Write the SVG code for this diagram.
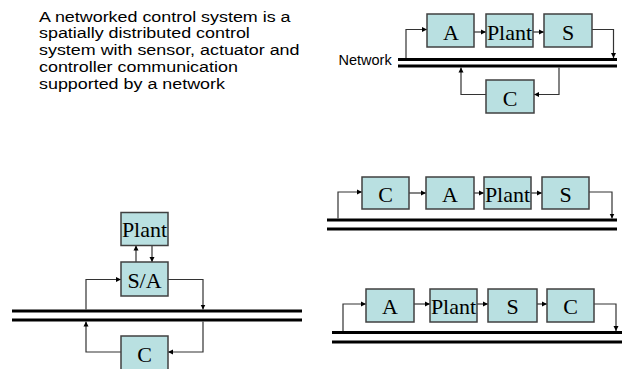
<svg xmlns="http://www.w3.org/2000/svg" width="630" height="369" viewBox="0 0 630 369">
<style>
.box{fill:#b9e0e1;stroke:#404040;stroke-width:1.5}
.bt{font-family:"Liberation Serif","Times New Roman",serif;font-size:22px;text-anchor:middle;fill:#000}
.net{stroke:#000;stroke-width:3;fill:none}
.c{stroke:#333;stroke-width:1.2;fill:none;marker-end:url(#ah)}
.para{font-family:"Liberation Sans",Arial,sans-serif;font-size:15.3px;fill:#000}
</style>
<defs>
<marker id="ah" markerUnits="userSpaceOnUse" markerWidth="6" markerHeight="6" refX="5" refY="3" orient="auto">
<path d="M0,0.5 L5,3 L0,5.5 Z" fill="#000"/>
</marker>
</defs>
<rect width="630" height="369" fill="#fff"/>

<g id="description" transform="translate(39,0) scale(1.17,1)">
<text class="para" x="0" y="21.7">A networked control system is a</text>
<text class="para" x="0" y="38.5">spatially distributed control</text>
<text class="para" x="0" y="55.3">system with sensor, actuator and</text>
<text class="para" x="0" y="72.1">controller communication</text>
<text class="para" x="0" y="88.9">supported by a network</text>
</g>
<text id="network-label" x="338.5" y="64.5" font-family="Liberation Sans, Arial, sans-serif" font-size="14.5">Network</text>

<g id="networks">
<line class="net" x1="398" y1="59.5" x2="617" y2="59.5"/>
<line class="net" x1="398" y1="66" x2="617" y2="66"/>
<line class="net" x1="327" y1="220" x2="617" y2="220"/>
<line class="net" x1="327" y1="229" x2="617" y2="229"/>
<line class="net" x1="332" y1="332.5" x2="622" y2="332.5"/>
<line class="net" x1="332" y1="342" x2="622" y2="342"/>
<line class="net" x1="12" y1="311" x2="302" y2="311"/>
<line class="net" x1="12" y1="320" x2="302" y2="320"/>
</g>

<g id="connectors">
<path class="c" d="M406,58 V29.5 H427"/>
<path class="c" d="M474,32 H486"/>
<path class="c" d="M533,32 H544"/>
<path class="c" d="M592,29.5 H613.5 V58"/>
<path class="c" d="M559,67.5 V94.5 H534"/>
<path class="c" d="M486,94.5 H461 V67.5"/>
<path class="c" d="M338,218.5 V192 H362"/>
<path class="c" d="M409,193 H426"/>
<path class="c" d="M474,193 H484"/>
<path class="c" d="M531,193 H542"/>
<path class="c" d="M589,192 H612 V218.5"/>
<path class="c" d="M343,331 V304 H366"/>
<path class="c" d="M414,304 H430"/>
<path class="c" d="M477,304 H488"/>
<path class="c" d="M537,304 H547"/>
<path class="c" d="M594,304 H616 V331"/>
<path class="c" d="M136,262 V245.5"/>
<path class="c" d="M152,245.5 V262"/>
<path class="c" d="M86,309.5 V279.5 H121"/>
<path class="c" d="M168,279.5 H203 V309.5"/>
<path class="c" d="M203,321.5 V352 H168"/>
<path class="c" d="M121,352 H86 V321.5"/>
</g>

<g id="tr-A"><rect class="box" x="427" y="14" width="47" height="33"/><text class="bt" x="451" y="39.5">A</text></g>
<g id="tr-Plant"><rect class="box" x="486" y="14" width="47" height="33"/><text class="bt" x="509.5" y="39.5">Plant</text></g>
<g id="tr-S"><rect class="box" x="544" y="14" width="48" height="33"/><text class="bt" x="568" y="39.5">S</text></g>
<g id="tr-C"><rect class="box" x="486" y="80" width="48" height="33"/><text class="bt" x="510" y="105.5">C</text></g>

<g id="mr-C"><rect class="box" x="362" y="177" width="47" height="32"/><text class="bt" x="385.5" y="202">C</text></g>
<g id="mr-A"><rect class="box" x="426" y="177" width="48" height="32"/><text class="bt" x="450" y="202">A</text></g>
<g id="mr-Plant"><rect class="box" x="484" y="177" width="47" height="32"/><text class="bt" x="507.5" y="202">Plant</text></g>
<g id="mr-S"><rect class="box" x="542" y="177" width="47" height="32"/><text class="bt" x="565.5" y="202">S</text></g>

<g id="br-A"><rect class="box" x="366" y="289" width="48" height="33"/><text class="bt" x="390" y="314">A</text></g>
<g id="br-Plant"><rect class="box" x="430" y="289" width="47" height="33"/><text class="bt" x="453.5" y="314">Plant</text></g>
<g id="br-S"><rect class="box" x="488" y="289" width="49" height="33"/><text class="bt" x="512.5" y="314">S</text></g>
<g id="br-C"><rect class="box" x="547" y="289" width="47" height="33"/><text class="bt" x="570.5" y="314">C</text></g>

<g id="l-Plant"><rect class="box" x="121" y="212.5" width="47" height="33"/><text class="bt" x="144.5" y="237">Plant</text></g>
<g id="l-SA"><rect class="box" x="121" y="262" width="47" height="34"/><text class="bt" x="144.5" y="287.5">S/A</text></g>
<g id="l-C"><rect class="box" x="121" y="336" width="47" height="34"/><text class="bt" x="144.5" y="361.5">C</text></g>
</svg>
